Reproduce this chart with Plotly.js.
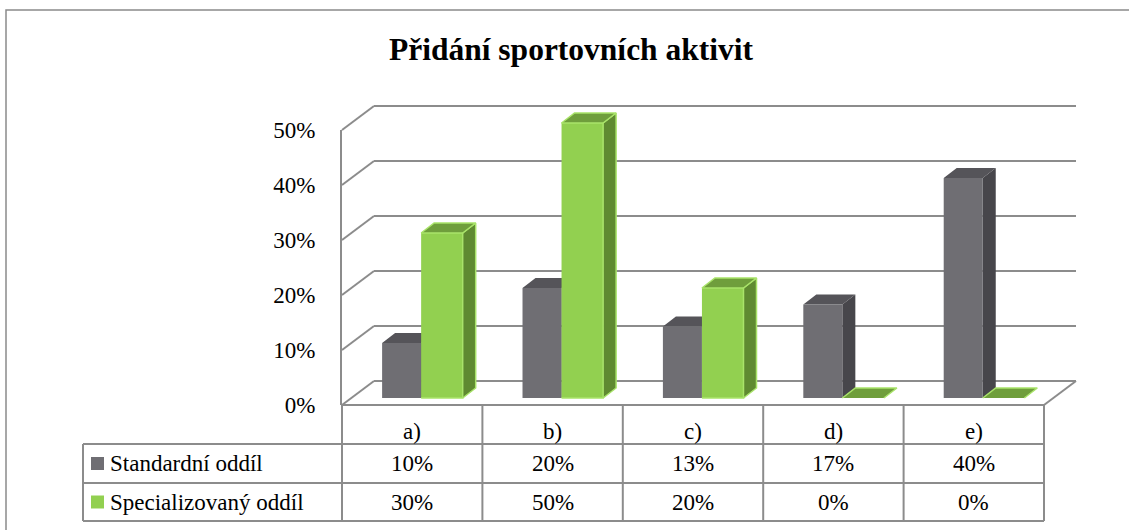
<!DOCTYPE html>
<html><head><meta charset="utf-8">
<script src="https://cdn.plot.ly/plotly-3.0.1.min.js"></script>
<style>html,body{margin:0;padding:0;background:#fff;}#chart{width:1129px;height:530px;}</style>
</head><body><div id="chart"></div>
<script>
// ---------- DATA ----------
const categories = ['a)', 'b)', 'c)', 'd)', 'e)'];
const seriesNames = ['Standardní oddíl', 'Specializovaný oddíl'];
const standardValues = [0.10, 0.20, 0.13, 0.17, 0.40];
const specialValues = [0.30, 0.50, 0.20, 0.00, 0.00];
const yTickValues = [0, 0.1, 0.2, 0.3, 0.4, 0.5];
const yTickLabels = ['0%', '10%', '20%', '30%', '40%', '50%'];
const chartTitle = 'Přidání sportovních aktivit';

// ---------- LAYOUT GEOMETRY (pixels) ----------
const W = 1129, H = 530;
const fx = p => p / W, fy = p => 1 - p / H;
const FONT = '"Liberation Serif", "Times New Roman", serif';
const GRID = '#8c8c8c';
const front = {x0: 342, x1: 1044, zero: 405, scale: 550};   // scale: px per 1.0
const depth = {dx: 32, dy: 24};
const barPlane = {dx: 9.5, dy: 7};
const side = {dx: 13, dy: 10};
const n = categories.length;
const colW = (front.x1 - front.x0) / n;
const yMax = 0.5;
const gridMax = 0.505;

const colors = {
  gFront: '#6f6e73', gSide: '#47464b', gTop: '#555459',
  sFront: '#92d050', sSide: '#5f8a31', sTop: '#6f9e3c', sEdge: '#a9e36a'
};

// bar subplot geometry
const barZero = front.zero - barPlane.dy;
const barYmin = -0.02, barYmax = 0.62;
const sdx = side.dx / colW;            // depth in category units
const sdy = side.dy / front.scale;     // depth in value units
const gw = [-0.282, -0.004];           // gray bar extent around category centre
const sw = [-0.004, 0.292];            // green bar extent

function faces(values, ext) {
  const fr = {x: [], y: []}, sd = {x: [], y: []}, tp = {x: [], y: []};
  values.forEach((v, i) => {
    const l = i + ext[0], r = i + ext[1];
    const push = (o, pts) => { pts.forEach(p => { o.x.push(p[0]); o.y.push(p[1]); }); o.x.push(null); o.y.push(null); };
    if (v > 0) {
      push(fr, [[l, 0], [r, 0], [r, v], [l, v]]);
      push(sd, [[r, 0], [r + sdx, sdy], [r + sdx, v + sdy], [r, v]]);
    }
    push(tp, [[l, v], [l + sdx, v + sdy], [r + sdx, v + sdy], [r, v]]);
  });
  return {fr, sd, tp};
}
const gF = faces(standardValues, gw);
const sF = faces(specialValues, sw);
function poly(o, fill, edge, ew) {
  return {type: 'scatter', mode: 'lines', x: o.x, y: o.y, fill: 'toself', fillcolor: fill,
    line: {color: edge, width: ew}, xaxis: 'x3', yaxis: 'y3', hoverinfo: 'skip', showlegend: false};
}

const traces = [
  {type: 'scatter', x: [0], y: [0], mode: 'markers', marker: {opacity: 0}, hoverinfo: 'skip', showlegend: false},
  {type: 'scatter', x: [0], y: [0], mode: 'markers', marker: {opacity: 0}, hoverinfo: 'skip', showlegend: false, xaxis: 'x2', yaxis: 'y2'},
  poly(gF.sd, colors.gSide, 'rgba(0,0,0,0)', 0),
  poly(gF.tp, colors.gTop, 'rgba(0,0,0,0)', 0),
  poly(gF.fr, colors.gFront, 'rgba(0,0,0,0)', 0),
  poly(sF.sd, colors.sSide, colors.sEdge, 1.5),
  poly(sF.tp, colors.sTop, colors.sEdge, 1.5),
  poly(sF.fr, colors.sFront, colors.sEdge, 1.5)
];

// ---------- shapes: walls, floor, table ----------
const shapes = [];
const line = (x0, y0, x1, y1, c, w) => shapes.push({type: 'line', xref: 'paper', yref: 'paper',
  x0: fx(x0), y0: fy(y0), x1: fx(x1), y1: fy(y1), line: {color: c || GRID, width: w || 2}});
// outer frame
shapes.push({type: 'rect', xref: 'paper', yref: 'paper', x0: fx(6), y0: fy(560), x1: fx(1160), y1: fy(10),
  line: {color: '#8a8a8a', width: 1.5}, fillcolor: 'rgba(0,0,0,0)'});
// left wall diagonals
yTickValues.forEach(v => {
  const yf = front.zero - v * front.scale;
  line(front.x0, yf, front.x0 + depth.dx, yf - depth.dy);
});
// floor right edge
line(front.x1, front.zero, front.x1 + depth.dx, front.zero - depth.dy);
// table
const rowY = [front.zero, 444, 483, 521];
const legendX = 83;
line(front.x0, rowY[0], front.x1, rowY[0]);
for (let r = 1; r < rowY.length; r++) line(legendX, rowY[r], front.x1, rowY[r]);
for (let c = 0; c <= n; c++) line(front.x0 + c * colW, rowY[0], front.x0 + c * colW, rowY[3]);
line(legendX, rowY[1], legendX, rowY[3]);
// legend keys
const keyCol = [colors.gFront, colors.sFront];
[0, 1].forEach(k => {
  const cy = (rowY[k + 1] + rowY[k + 2]) / 2;
  shapes.push({type: 'rect', xref: 'paper', yref: 'paper', x0: fx(91), x1: fx(104), y0: fy(cy + 6.5), y1: fy(cy - 6.5),
    fillcolor: keyCol[k], line: {width: 0}});
});

// ---------- annotations ----------
const annotations = [];
const txt = (x, y, t, anchor) => annotations.push({xref: 'paper', yref: 'paper', x: fx(x), y: fy(y), text: t,
  showarrow: false, xanchor: anchor || 'center', yanchor: 'middle', font: {family: FONT, size: 23, color: '#000'}});
categories.forEach((c, i) => {
  const cx = front.x0 + (i + 0.5) * colW;
  txt(cx, 431, c);
  txt(cx, 463, Math.round(standardValues[i] * 100) + '%');
  txt(cx, 502, Math.round(specialValues[i] * 100) + '%');
});
seriesNames.forEach((s, k) => txt(108, k === 0 ? 463 : 502, s, 'left'));

const layout = {
  width: W, height: H, margin: {l: 0, r: 0, t: 0, b: 0}, paper_bgcolor: '#fff', plot_bgcolor: 'rgba(0,0,0,0)',
  showlegend: false,
  font: {family: FONT},
  title: {text: '<b>' + chartTitle + '</b>', x: fx(571), y: fy(49), xanchor: 'center', yanchor: 'middle',
    font: {family: FONT, size: 31.5, color: '#000'}},
  xaxis: {domain: [fx(front.x0), fx(front.x1)], range: [-0.5, n - 0.5], visible: false, fixedrange: true},
  yaxis: {domain: [fy(front.zero), fy(front.zero - yMax * front.scale)], range: [0, yMax], showgrid: false, zeroline: false,
    showline: true, linecolor: GRID, linewidth: 2, tickvals: yTickValues, ticktext: yTickLabels, ticks: '',
    ticklabelstandoff: 20, tickfont: {family: FONT, size: 23, color: '#000'}, fixedrange: true},
  xaxis2: {domain: [fx(front.x0 + depth.dx), fx(front.x1 + depth.dx)], range: [-0.5, n - 0.5], visible: false, anchor: 'y2'},
  yaxis2: {domain: [fy(front.zero - depth.dy), fy(front.zero - depth.dy - gridMax * front.scale)], range: [0, gridMax], anchor: 'x2',
    showgrid: true, gridcolor: GRID, gridwidth: 2, zeroline: true, zerolinecolor: GRID, zerolinewidth: 2,
    tickvals: yTickValues, showticklabels: false, ticks: '', showline: false},
  xaxis3: {domain: [fx(front.x0 + barPlane.dx), fx(front.x1 + barPlane.dx)], range: [-0.5, n - 0.5], visible: false, anchor: 'y3'},
  yaxis3: {domain: [fy(barZero - barYmin * front.scale), fy(barZero - barYmax * front.scale)], range: [barYmin, barYmax],
    visible: false, anchor: 'x3'},
  shapes: shapes,
  annotations: annotations
};

Plotly.newPlot('chart', traces, layout, {displayModeBar: false, staticPlot: true});
</script>
</body></html>
